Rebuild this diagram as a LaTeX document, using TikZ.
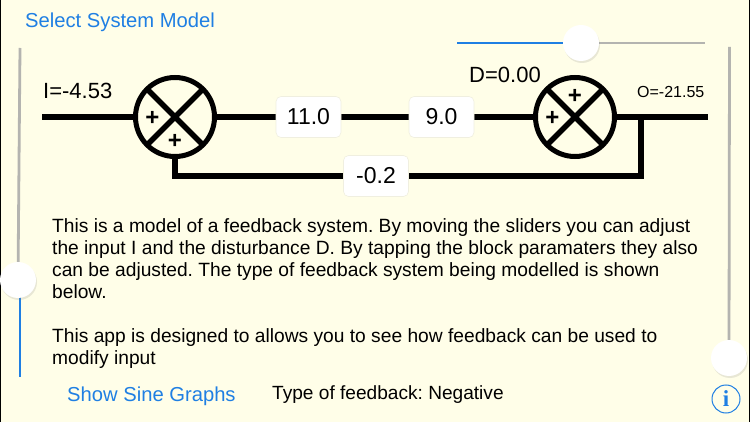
\documentclass[tikz,border=0pt]{standalone}
\usepackage{fontspec}
\setmainfont{Liberation Sans}
\usetikzlibrary{positioning, shadows, backgrounds}
\definecolor{paper}{HTML}{FFFEE8}
\definecolor{iosblue}{HTML}{1F7FE3}
\definecolor{track}{HTML}{B4B4B0}
\definecolor{edge}{HTML}{F0EFE0}
\frenchspacing
\newcommand{\fs}[1]{\fontsize{#1}{22}\selectfont}
\tikzstyle{junction} = [circle, minimum size=79pt, inner sep=0pt, outer sep=0pt, draw=black, fill=paper, line width=5pt]
\tikzstyle{gain} = [rectangle, rounded corners=5pt, minimum width=65pt, minimum height=41pt, inner sep=0pt, draw=edge, line width=0.6pt, fill=white, font=\fs{23}]
\tikzstyle{wire} = [line width=5.4pt, black]
\tikzstyle{thumb} = [circle, minimum size=36pt, inner sep=0pt, fill=white, drop shadow={shadow xshift=1pt, shadow yshift=-2pt, opacity=0.18}]
\tikzstyle{plus} = [inner sep=0pt, font=\bfseries\fs{24}]
\tikzstyle{tracked} = [line width=2.8pt, track]
\tikzstyle{filled} = [line width=2.8pt, iosblue]
\tikzstyle{link} = [inner sep=0pt, text=iosblue, font=\fs{20.2}]

\begin{document}
\begin{tikzpicture}[x=1pt, y=1pt, node distance=0cm]
    \useasboundingbox (0,0) rectangle (750,-422);

    \node (title) [link, anchor=west] at (25,-22.5) {Select System Model};

    % sliders
    \coordinate (top1) at (457,-43);
    \coordinate (top2) at (705,-43);
    \node (topthumb) [thumb] at (581,-43) {};
    \coordinate (left1) at (20,-48);
    \coordinate (left2) at (20,-377);
    \node (leftthumb) [thumb] at (18,-280) {};
    \coordinate (right1) at (729.5,-47);
    \node (rightthumb) [thumb] at (729,-358) {};

    % block diagram
    \node (sum1) [junction] at (175,-117) {};
    \node (gain1) [gain, right of = sum1, xshift=133.5pt] {11.0};
    \node (gain2) [gain, right of = gain1, xshift=133pt] {9.0};
    \node (sum2) [junction, right of = gain2, xshift=133.5pt] {};
    \node (gain3) [gain, right of = gain1, xshift=67.5pt, yshift=-59pt] {-0.2};
    \coordinate [left of = sum1, xshift=-133pt] (in);
    \coordinate [right of = sum2, xshift=133pt] (out);
    \coordinate [right of = sum2, xshift=66pt] (tap);

    \draw [wire] (sum1.135)--(sum1.-45);
    \draw [wire] (sum1.45)--(sum1.-135);
    \draw [wire] (sum2.135)--(sum2.-45);
    \draw [wire] (sum2.45)--(sum2.-135);

    \begin{scope}[on background layer]
        \fill [paper] (0,0) rectangle (750,-422);
        \fill [black] (0,0) rectangle (1.2,-422);
        \fill [black] (749,0) rectangle (750,-422);
        \draw [tracked] (topthumb)--(top2);
        \draw [filled] (top1)--(topthumb);
        \draw [tracked] (left1)--(leftthumb.center);
        \draw [filled] ([xshift=2pt]leftthumb.center)--(left2);
        \draw [tracked] (right1)--(rightthumb);
        \draw [wire] (in)--(sum1);
        \draw [wire] (sum1)--(gain1);
        \draw [wire] (gain1)--(gain2);
        \draw [wire] (gain2)--(sum2);
        \draw [wire] (sum2)--(out);
        \draw [wire] (tap)|-(gain3);
        \draw [wire] (gain3)-|(sum1);
    \end{scope}

    \node (plus1) [plus, left of = sum1, xshift=-22.5pt, yshift=-1.5pt] {+};
    \node (plus2) [plus, below of = sum1, yshift=-24pt] {+};
    \node (plus3) [plus, left of = sum2, xshift=-22.5pt, yshift=-1.5pt] {+};
    \node (plus4) [plus, above of = sum2, yshift=21pt] {+};

    \node (input) [inner sep=0pt, anchor=west, font=\fs{22}] at (43,-91) {I=-4.53};
    \node (dist) [inner sep=0pt, anchor=west, font=\fs{22}] at (469,-75) {D=0.00};
    \node (output) [inner sep=0pt, anchor=west, font=\fs{16}] at (637,-92) {O=-21.55};

    % text
    \node (about) [inner sep=0pt, anchor=north west, align=left, font=\fs{19.2}] at (52,-218) {This is a model of a feedback system. By moving the sliders you can adjust\\
    the input I and the disturbance D. By tapping the block paramaters they also\\
    can be adjusted. The type of feedback system being modelled is shown\\
    below.\\\\
    This app is designed to allows you to see how feedback can be used to\\
    modify input};

    \node (sine) [link, anchor=west] at (67,-396) {Show Sine Graphs};
    \node (kind) [inner sep=0pt, anchor=west, font=\fs{19.1}] at (272,-395) {Type of feedback: Negative};

    \node (info) [circle, draw=iosblue, line width=1pt, minimum size=28pt, inner sep=0pt, text=iosblue, font=\fontspec{Liberation Serif}\bfseries\fs{23}] at (726,-399) {i};
\end{tikzpicture}
\end{document}
